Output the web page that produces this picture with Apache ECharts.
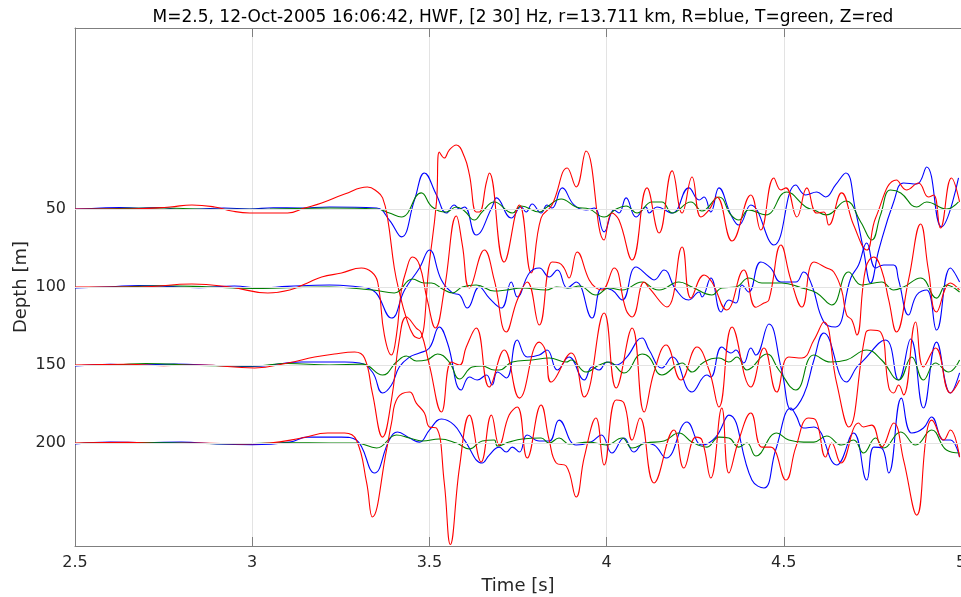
<!DOCTYPE html>
<html>
<head>
<meta charset="utf-8">
<script src="https://cdn.jsdelivr.net/npm/echarts@6/dist/echarts.min.js"></script>
<style>
html,body{margin:0;padding:0;background:#fff;}
#chart{width:961px;height:597px;}
</style>
</head>
<body>
<div id="chart"></div>
<script>
// ---- data (time [s], depth [m]) ----
const titleText = 'M=2.5, 12-Oct-2005 16:06:42, HWF, [2 30] Hz, r=13.711 km, R=blue, T=green, Z=red';
const depths = [50, 100, 150, 200];
const depthTickLabels = ['50', '100', '150', '200'];
const timeTickLabels = ['2.5', '3', '3.5', '4', '4.5', '5'];

// R component (blue)
const R50 = [[2.5,50],[2.56,49.6],[2.627,49.0],[2.68,49.6],[2.739,49.0],[2.8,50.3],[2.852,50],[2.92,49.4],[2.993,50],[3.06,49.2],[3.134,49.4],[3.218,48.7],[3.351,49.4],[3.387,57.1],[3.421,67.9],[3.458,44.2],[3.486,26.9],[3.52,41.0],[3.548,52.6],[3.57,47.4],[3.585,50],[3.599,48.7],[3.632,66.7],[3.677,48.7],[3.689,42.9],[3.731,55.8],[3.759,48.7],[3.773,51.9],[3.79,46.8],[3.815,52.6],[3.832,47.4],[3.846,49.4],[3.875,36.5],[3.908,47.4],[3.942,50.6],[3.965,49.4],[3.993,64.7],[4.021,50.6],[4.035,52.6],[4.055,42.9],[4.083,55.1],[4.111,48.7],[4.12,52.6],[4.142,48.7],[4.185,52.6],[4.232,36.5],[4.261,44.2],[4.275,42.3],[4.294,51.9],[4.317,36.5],[4.351,53.8],[4.373,60.3],[4.407,47.4],[4.472,73.1],[4.534,34.6],[4.562,41.0],[4.593,39.1],[4.618,42.3],[4.646,34.6],[4.675,26.9],[4.703,51.9],[4.725,76.3],[4.745,97.4],[4.768,76.3],[4.81,45.5],[4.838,33.3],[4.875,34.0],[4.903,23.1],[4.945,61.5],[4.993,30.1]];
const R100 = [[2.5,100.6],[2.6,99.8],[2.68,99.0],[2.76,99.6],[2.85,100.4],[2.95,99.4],[3.02,100.6],[3.1,99.6],[3.218,98.7],[3.275,99.4],[3.339,101.9],[3.393,119.9],[3.43,101.9],[3.472,87.8],[3.5,76.3],[3.534,95.5],[3.565,103.8],[3.585,105.1],[3.607,113.5],[3.641,100],[3.669,107.1],[3.703,113.5],[3.731,96.8],[3.748,106.4],[3.782,91.0],[3.81,87.8],[3.838,93.6],[3.861,89.1],[3.889,100.6],[3.914,96.8],[3.959,119.9],[3.987,100.6],[4.015,101.9],[4.044,108.3],[4.083,87.2],[4.12,93.6],[4.134,95.5],[4.162,89.1],[4.196,101.9],[4.232,108.3],[4.261,103.2],[4.269,106.4],[4.294,94.2],[4.323,116.0],[4.345,108.3],[4.365,110.3],[4.382,98.7],[4.401,103.2],[4.435,84.0],[4.463,87.8],[4.492,96.8],[4.534,96.8],[4.556,90.4],[4.579,98.7],[4.613,122.4],[4.646,125.6],[4.689,94.2],[4.711,85.9],[4.734,71.8],[4.759,87.8],[4.782,85.9],[4.81,85.9],[4.824,95.5],[4.852,117.9],[4.875,105.1],[4.903,101.9],[4.931,127.6],[4.97,87.8],[4.996,96.8]];
const R150 = [[2.5,150.6],[2.6,149.6],[2.68,150],[2.78,149.4],[2.9,150.3],[3.0,151],[3.139,148.1],[3.261,148.1],[3.303,148.7],[3.339,154.5],[3.368,167.9],[3.393,162.8],[3.415,151.3],[3.444,144.9],[3.472,142.3],[3.5,139.1],[3.528,125.6],[3.551,135.9],[3.59,166.0],[3.613,157.7],[3.635,159.6],[3.661,156.4],[3.677,162.8],[3.692,154.5],[3.717,158.3],[3.748,134.0],[3.776,144.9],[3.81,143.6],[3.832,140.4],[3.861,153.2],[3.894,144.9],[3.937,159.6],[3.959,151.3],[3.979,153.2],[4.001,148.1],[4.027,150],[4.055,145.5],[4.1,132.7],[4.12,140.4],[4.156,151.9],[4.185,144.9],[4.241,167.3],[4.283,156.4],[4.294,157.7],[4.325,138.5],[4.351,142.3],[4.365,140.4],[4.387,148.7],[4.407,139.1],[4.421,143.6],[4.458,123.7],[4.494,153.2],[4.523,178.8],[4.556,169.2],[4.585,146.8],[4.613,129.5],[4.677,160.9],[4.706,151.3],[4.72,148.1],[4.787,134.0],[4.824,159.6],[4.858,133.3],[4.894,177.6],[4.931,135.3],[4.97,167.9],[4.996,155]];
const R200 = [[2.5,200.6],[2.6,199.4],[2.7,199.8],[2.8,199.4],[2.9,200.6],[3.0,201],[3.106,199.4],[3.156,196.2],[3.252,196.2],[3.294,198.1],[3.345,219.2],[3.387,198.1],[3.41,192.9],[3.444,196.8],[3.472,199.4],[3.5,191.7],[3.534,184.6],[3.57,188.5],[3.599,198.1],[3.649,212.8],[3.669,207.7],[3.697,202.6],[3.717,205.8],[3.734,202.6],[3.754,205.8],[3.776,194.9],[3.81,198.7],[3.838,198.7],[3.866,185.3],[3.914,201.3],[3.956,199.4],[3.985,194.9],[4.015,206.4],[4.049,196.8],[4.077,205.8],[4.106,200],[4.134,201.3],[4.168,209.6],[4.227,186.5],[4.269,201.3],[4.308,196.2],[4.345,182.1],[4.41,223.7],[4.444,228.8],[4.477,204.5],[4.52,177.6],[4.534,182.1],[4.556,190.4],[4.585,189.7],[4.649,214.1],[4.697,193.6],[4.734,223.7],[4.754,202.6],[4.776,203.2],[4.796,219.2],[4.832,171.2],[4.861,193.6],[4.894,190.4],[4.917,183.3],[4.951,198.1],[4.97,198.1],[4.996,209.0]];

// T component (green)
const T50 = [[2.5,50.3],[2.62,49.7],[2.75,49.4],[2.9,50.2],[3.05,50.0],[3.218,49.4],[3.351,50],[3.387,52.6],[3.421,55.1],[3.477,39.7],[3.508,48.7],[3.548,51.9],[3.576,48.7],[3.599,51.3],[3.627,57.1],[3.649,51.9],[3.683,45.5],[3.734,52.6],[3.759,48.1],[3.81,51.9],[3.832,48.7],[3.872,43.6],[3.914,48.7],[3.951,50],[3.993,55.1],[4.027,50],[4.055,48.1],[4.086,52.6],[4.128,45.5],[4.156,45.5],[4.185,52.6],[4.238,45.5],[4.269,51.3],[4.317,42.3],[4.351,53.8],[4.373,57.1],[4.401,50.6],[4.449,53.8],[4.508,39.1],[4.562,48.7],[4.585,50.6],[4.621,53.8],[4.675,44.9],[4.717,58.3],[4.748,69.9],[4.773,53.8],[4.801,37.8],[4.83,39.7],[4.875,48.7],[4.903,45.5],[4.959,50],[4.993,45.5]];
const T100 = [[2.5,100.3],[2.62,100],[2.75,99.2],[2.88,100],[3.0,101],[3.1,100.5],[3.218,100],[3.339,101.9],[3.401,103.8],[3.452,94.9],[3.486,97.4],[3.506,97.4],[3.537,101.3],[3.565,103.8],[3.593,100],[3.632,98.7],[3.683,102.6],[3.717,101.9],[3.762,100.6],[3.83,101.9],[3.858,100],[3.894,100.6],[3.923,99.4],[3.97,105.1],[4.007,100.6],[4.044,101.9],[4.1,96.8],[4.134,101.3],[4.148,101.9],[4.204,96.8],[4.241,100],[4.297,105.1],[4.325,100.6],[4.365,100],[4.401,94.2],[4.438,97.4],[4.494,97.4],[4.551,100.6],[4.593,103.8],[4.635,111.5],[4.683,90.4],[4.72,98.7],[4.776,96.8],[4.81,101.9],[4.838,100],[4.886,94.2],[4.931,107.1],[4.959,98.7],[4.996,103.2]];
const T150 = [[2.5,150.3],[2.62,149.8],[2.7,149],[2.85,150.3],[3.0,150.6],[3.1,149],[3.218,150],[3.311,149.4],[3.368,156.4],[3.407,148.1],[3.435,144.2],[3.463,147.4],[3.492,146.8],[3.523,142.9],[3.556,148.1],[3.585,159.0],[3.621,151.3],[3.649,150.6],[3.683,153.2],[3.697,153.2],[3.734,148.1],[3.79,146.8],[3.838,145.5],[3.886,148.1],[3.9,146.8],[3.942,154.5],[3.979,150],[4.007,148.1],[4.049,155.1],[4.1,142.9],[4.12,144.9],[4.156,156.4],[4.213,148.7],[4.241,154.5],[4.275,148.1],[4.317,145.5],[4.345,148.1],[4.368,144.9],[4.396,153.2],[4.452,142.9],[4.486,153.2],[4.534,166.0],[4.585,143.6],[4.632,148.1],[4.677,146.8],[4.734,140.4],[4.776,146.8],[4.824,159.6],[4.861,144.9],[4.894,159.6],[4.928,148.7],[4.965,154.5],[4.996,146.8]];
const T200 = [[2.5,200.3],[2.65,199.7],[2.8,200],[2.95,200.5],[3.1,199.8],[3.218,200],[3.294,200],[3.351,203.2],[3.407,194.9],[3.444,196.8],[3.48,198.7],[3.528,197.4],[3.576,200],[3.613,203.8],[3.649,198.7],[3.683,198.1],[3.692,201.9],[3.725,199.4],[3.762,197.4],[3.815,196.8],[3.838,200],[3.866,196.8],[3.894,200.6],[3.951,199.4],[3.999,201.3],[4.044,196.8],[4.072,203.2],[4.111,200],[4.162,198.7],[4.204,193.6],[4.241,199.4],[4.283,202.6],[4.317,196.2],[4.345,196.8],[4.373,202.6],[4.396,200],[4.421,208.3],[4.48,193.6],[4.514,198.1],[4.556,199.4],[4.585,199.4],[4.621,195.5],[4.663,201.3],[4.697,198.1],[4.725,206.4],[4.759,196.8],[4.782,203.2],[4.83,192.9],[4.872,201.3],[4.917,191.7],[4.959,204.5],[4.996,206.4]];

// Z component (red)
const Z50 = [[2.5,50],[2.655,50],[2.768,48.7],[2.83,47.4],[2.894,48.7],[2.942,51.3],[2.993,52.6],[3.1,52.6],[3.148,49.4],[3.196,46.2],[3.261,40.4],[3.325,35.9],[3.354,39.1],[3.368,42.9],[3.382,55.8],[3.401,87.8],[3.415,103.2],[3.435,119.9],[3.455,131.0],[3.472,133.0],[3.5,84.0],[3.52,45.5],[3.528,13.5],[3.542,17.3],[3.556,12.2],[3.576,9.0],[3.599,16.7],[3.613,28.2],[3.632,51.9],[3.641,51.9],[3.661,32.7],[3.669,26.9],[3.711,84.0],[3.754,47.4],[3.787,91.0],[3.815,55.8],[3.846,47.4],[3.889,23.7],[3.914,35.9],[3.942,12.8],[3.993,69.9],[4.015,52.6],[4.035,57.1],[4.072,82.7],[4.114,36.5],[4.148,65.4],[4.185,25.6],[4.213,52.6],[4.241,29.5],[4.266,55.1],[4.289,50.6],[4.311,42.3],[4.354,70.5],[4.407,41.0],[4.435,63.5],[4.472,30.1],[4.492,37.8],[4.506,36.5],[4.537,55.1],[4.565,36.5],[4.593,52.6],[4.613,51.9],[4.627,60.3],[4.663,39.7],[4.697,60.3],[4.734,76.3],[4.759,55.8],[4.818,31.4],[4.846,37.8],[4.88,33.3],[4.908,42.3],[4.923,41.0],[4.942,62.2],[4.973,30.1],[4.996,45.5]];
const Z100 = [[2.5,100],[2.683,100],[2.83,98.1],[2.937,100],[3.044,103.8],[3.106,101.9],[3.156,97.4],[3.196,93.6],[3.252,91.0],[3.308,87.8],[3.337,90.4],[3.354,96.8],[3.373,130.8],[3.393,143.6],[3.407,130.8],[3.421,101.9],[3.435,89.1],[3.452,80.8],[3.472,85.9],[3.494,108.3],[3.517,126.3],[3.542,101.9],[3.576,54.5],[3.593,73.1],[3.613,100.6],[3.655,76.3],[3.683,95.5],[3.717,128.8],[3.748,108.3],[3.776,96.8],[3.81,124.4],[3.846,84.0],[3.866,84.6],[3.88,87.8],[3.894,94.2],[3.917,77.6],[3.951,95.5],[3.97,100.6],[3.987,101.9],[4.021,87.8],[4.055,114.7],[4.072,119.2],[4.106,96.8],[4.12,100.6],[4.17,112.8],[4.213,74.4],[4.238,107.1],[4.275,92.3],[4.297,96.8],[4.339,114.7],[4.387,89.1],[4.421,113.0],[4.444,110.3],[4.458,108.3],[4.492,73.1],[4.52,95.5],[4.551,112.8],[4.585,84.0],[4.621,87.8],[4.641,90.4],[4.663,101.9],[4.677,117.9],[4.692,121.2],[4.706,130.8],[4.731,88.0],[4.754,80.8],[4.776,89.1],[4.796,108.3],[4.818,128.8],[4.852,95.5],[4.886,59.6],[4.908,89.1],[4.931,116.0],[4.97,97.4],[4.996,101.9]];
const Z150 = [[2.5,150],[2.65,149.5],[2.75,150.4],[2.852,150],[3.007,151.9],[3.1,148.7],[3.176,144.9],[3.232,142.9],[3.289,141.7],[3.317,145.5],[3.339,167.9],[3.368,196.2],[3.393,172.4],[3.415,134.0],[3.435,119.2],[3.463,126.3],[3.477,129.5],[3.5,150],[3.534,180.1],[3.562,148.1],[3.585,150],[3.604,138.5],[3.632,126.3],[3.669,164.1],[3.711,140.4],[3.754,171.2],[3.81,135.3],[3.827,140.4],[3.844,160.9],[3.9,142.3],[3.937,170.5],[3.993,116.7],[4.027,164.7],[4.072,126.3],[4.106,180.1],[4.134,154.5],[4.168,137.2],[4.21,159.6],[4.255,138.5],[4.289,153.2],[4.317,176.9],[4.354,125.6],[4.407,164.1],[4.444,139.1],[4.48,167.3],[4.514,144.9],[4.551,145.5],[4.585,134.0],[4.613,122.4],[4.649,161.5],[4.683,189.7],[4.731,129.5],[4.745,127.6],[4.773,128.8],[4.796,164.1],[4.81,167.9],[4.824,162.8],[4.838,169.2],[4.872,122.4],[4.894,151.3],[4.928,139.1],[4.97,167.9],[4.996,159.6]];
const Z200 = [[2.5,200],[2.65,199.6],[2.75,200.3],[2.852,200],[2.97,200.6],[3.049,200],[3.139,196.8],[3.213,193.6],[3.261,193.6],[3.294,198.1],[3.323,225.6],[3.339,247.4],[3.379,204.5],[3.393,187.2],[3.41,171.2],[3.444,167.3],[3.463,174.4],[3.486,180.8],[3.5,189.7],[3.52,190.4],[3.542,225.6],[3.559,265],[3.585,215.4],[3.613,182.1],[3.646,212.2],[3.675,182.1],[3.697,201.3],[3.725,182.1],[3.748,176.9],[3.776,209.6],[3.815,175.6],[3.838,198.1],[3.858,212.8],[3.886,214.7],[3.914,234.6],[3.937,209.0],[3.97,184.0],[3.993,214.1],[4.027,172.4],[4.049,174.4],[4.072,198.1],[4.094,184.0],[4.134,225.6],[4.19,191.7],[4.218,216.0],[4.252,196.2],[4.269,198.1],[4.294,222.4],[4.325,177.6],[4.345,219.2],[4.373,198.1],[4.407,180.8],[4.438,202.6],[4.463,202.6],[4.506,223.7],[4.534,202.6],[4.57,184.0],[4.59,185.3],[4.618,209.0],[4.635,200.0],[4.661,212.8],[4.711,187.2],[4.725,189.7],[4.748,188.5],[4.776,202.6],[4.81,187.2],[4.838,210.9],[4.875,246.2],[4.903,193.6],[4.917,185.3],[4.951,198.1],[4.97,191.7],[4.996,209.0]];

// ---- chart ----
const traces = [
  [R50, T50, Z50], [R100, T100, Z100], [R150, T150, Z150], [R200, T200, Z200]
];
const compColors = ['#0000ff', '#008000', '#ff0000'];
const compNames = ['R', 'T', 'Z'];
const axisGray = '#7f7f7f';
const gridGray = '#e3e3e3';
const txt = '#262626';
const FONT = 'DejaVu Sans';

const series = [{
  type: 'line', data: [], z: 1, silent: true, symbol: 'none',
  markLine: {
    silent: true, symbol: 'none', animation: false,
    label: {show: false},
    lineStyle: {color: gridGray, width: 1, type: 'solid'},
    data: depths.map(v => ({yAxis: v}))
  }
}];
traces.forEach((grp, gi) => {
  grp.forEach((arr, ci) => {
    series.push({
      name: compNames[ci] + depths[gi],
      type: 'line',
      data: arr,
      smooth: 0.45,
      symbol: 'none',
      z: 3,
      lineStyle: {color: compColors[ci], width: 1.1},
      animation: false
    });
  });
});

const chart = echarts.init(document.getElementById('chart'), null, {renderer: 'canvas'});
chart.setOption({
  animation: false,
  backgroundColor: '#ffffff',
  title: {
    text: titleText, left: 518, top: 4, textAlign: 'center',
    textStyle: {fontFamily: FONT, fontSize: 17, fontWeight: 'normal', color: '#000'}
  },
  grid: {left: 75, right: 0, top: 28, bottom: 51, containLabel: false, outerBoundsMode: 'none'},
  xAxis: [{
    type: 'value', position: 'bottom', min: 2.5, max: 5, interval: 0.5,
    name: 'Time [s]', nameLocation: 'middle', nameGap: 31, nameMoveOverlap: false,
    nameTextStyle: {fontFamily: FONT, fontSize: 18, color: txt},
    axisLine: {show: true, onZero: false, lineStyle: {color: axisGray, width: 1}},
    axisTick: {show: true, inside: true, length: 9, lineStyle: {color: axisGray}},
    axisLabel: {
      fontFamily: FONT, fontSize: 16, color: txt, margin: 9,
      showMinLabel: true, showMaxLabel: true,
      formatter: v => timeTickLabels[Math.round((v - 2.5) / 0.5)] || ''
    },
    splitLine: {show: true, lineStyle: {color: gridGray, width: 1}}
  }, {
    type: 'value', position: 'top', min: 2.5, max: 5, interval: 0.5,
    axisLine: {show: true, onZero: false, lineStyle: {color: axisGray, width: 1}},
    axisTick: {show: true, inside: true, length: 9, lineStyle: {color: axisGray}},
    axisLabel: {show: false}, splitLine: {show: false}
  }],
  yAxis: [{
    type: 'value', position: 'left', inverse: true, min: -66, max: 266,
    name: 'Depth [m]', nameLocation: 'middle', nameGap: 45, nameMoveOverlap: false,
    nameTextStyle: {fontFamily: FONT, fontSize: 18, color: txt},
    axisLine: {show: true, onZero: false, lineStyle: {color: axisGray, width: 1}},
    axisTick: {show: true, inside: true, length: 9, customValues: depths, lineStyle: {color: axisGray}},
    axisLabel: {
      fontFamily: FONT, fontSize: 16, color: txt, margin: 9, customValues: depths,
      formatter: v => { const i = depths.indexOf(Math.round(v)); return i >= 0 ? depthTickLabels[i] : ''; }
    },
    splitLine: {show: false}
  }, {
    type: 'value', position: 'right', inverse: true, min: -66, max: 266,
    axisLine: {show: true, onZero: false, lineStyle: {color: axisGray, width: 1}},
    axisTick: {show: true, inside: true, length: 9, customValues: depths, lineStyle: {color: axisGray}},
    axisLabel: {show: false}, splitLine: {show: false}
  }],
  series: series
});
</script>
</body>
</html>
